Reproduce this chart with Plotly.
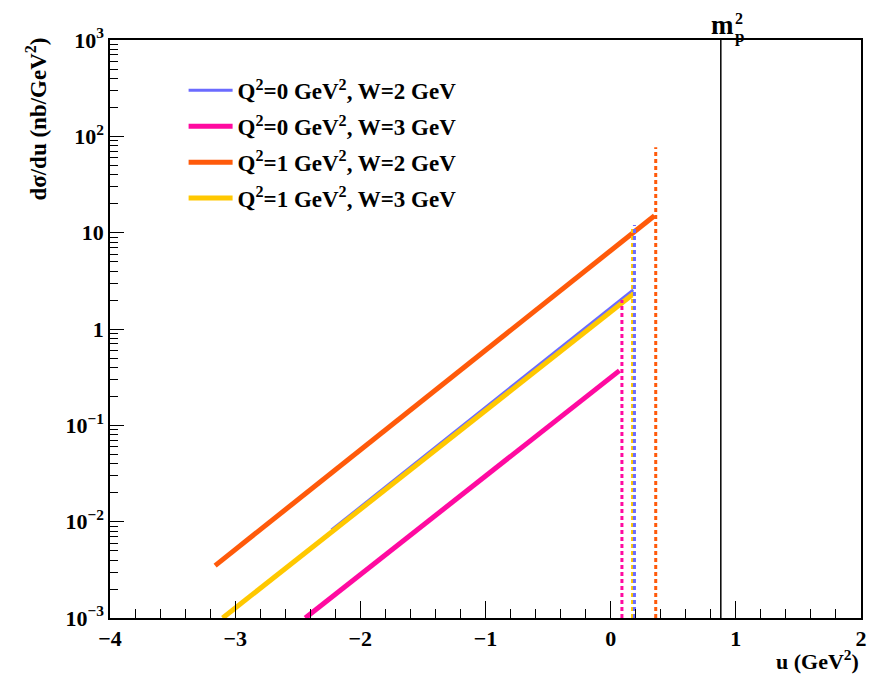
import plotly.graph_objects as go

# Series (straight lines in log-y): endpoints
names = ["Q<sup>2</sup>=0 GeV<sup>2</sup>, W=2 GeV",
         "Q<sup>2</sup>=0 GeV<sup>2</sup>, W=3 GeV",
         "Q<sup>2</sup>=1 GeV<sup>2</sup>, W=2 GeV",
         "Q<sup>2</sup>=1 GeV<sup>2</sup>, W=3 GeV"]
colors = ["#6b6bff", "#ff0aa0", "#ff5a0a", "#ffc800"]
widths = [3, 5, 5, 5]
u_start = [-2.23, -2.44, -3.16, -3.10]
u_end = [0.18, 0.07, 0.35, 0.17]
y_start = [0.0082, 0.001, 0.0035, 0.001]
y_end = [2.55, 0.37, 15.0, 2.25]

# kinematic limits (dotted verticals)
u_lim = [0.19, 0.09, 0.36, 0.175]
y_lim_top = [12.0, 2.0, 77.0, 11.5]

mp2 = 0.88
y_min, y_max = 1e-3, 1e3

ytick_vals = [1e-3, 1e-2, 1e-1, 1, 10, 100, 1000]
ytick_text = ["10<sup>\u22123</sup>", "10<sup>\u22122</sup>", "10<sup>\u22121</sup>",
              "1", "10", "10<sup>2</sup>", "10<sup>3</sup>"]
xtick_vals = [-4, -3, -2, -1, 0, 1, 2]
xtick_text = ["\u22124", "\u22123", "\u22122", "\u22121", "0", "1", "2"]

font_family = "Liberation Serif"

fig = go.Figure()
for i in range(4):
    fig.add_trace(go.Scatter(
        x=[u_start[i], u_end[i]], y=[y_start[i], y_end[i]],
        mode="lines", name=names[i], legendgroup=str(i),
        line=dict(color=colors[i], width=widths[i]),
    ))
for i in [1, 3, 0, 2]:
    fig.add_trace(go.Scatter(
        x=[u_lim[i], u_lim[i]], y=[y_min, y_lim_top[i]],
        mode="lines", showlegend=False,
        line=dict(color=colors[i], width=3, dash="4px,3px"),
    ))
fig.add_trace(go.Scatter(
    x=[mp2, mp2], y=[y_min, y_max], mode="lines", showlegend=False,
    line=dict(color="black", width=1.5),
))

minor_y = [k * 10.0 ** n for n in range(-3, 3) for k in range(2, 10)]

fig.update_layout(
    width=871, height=668,
    margin=dict(l=102, r=12, t=32, b=58),
    plot_bgcolor="white", paper_bgcolor="white",
    font=dict(family=font_family, size=20, color="black"),
    showlegend=True,
    legend=dict(x=0.098, y=0.95, xanchor="left", yanchor="top",
                bgcolor="rgba(0,0,0,0)", tracegroupgap=3, itemwidth=44,
                font=dict(family=font_family, size=23, color="black", weight="bold")),
    xaxis=dict(range=[-4, 2], showgrid=False, zeroline=False,
               showline=True, linecolor="black", linewidth=1.5, mirror=True,
               tickmode="array", tickvals=xtick_vals, ticktext=xtick_text,
               ticks="inside", ticklen=17, tickwidth=1.2, tickcolor="black",
               minor=dict(dtick=0.2, ticks="inside", ticklen=9, tickwidth=1.2, tickcolor="black"),
               tickfont=dict(family=font_family, size=22, weight="bold")),
    yaxis=dict(type="log", range=[-3, 3], showgrid=False, zeroline=False,
               showline=True, linecolor="black", linewidth=1.5, mirror=True,
               tickmode="array", tickvals=ytick_vals, ticktext=ytick_text,
               ticks="inside", ticklen=14, tickwidth=1.2, tickcolor="black",
               minor=dict(tickmode="array", tickvals=minor_y, ticks="inside",
                          ticklen=8, tickwidth=1.2, tickcolor="black"),
               tickfont=dict(family=font_family, size=22, weight="bold")),
)

fig.add_annotation(text="d\u03c3/du (nb/GeV<sup>2</sup>)", xref="paper", yref="paper",
                   x=-0.098, y=0.863, textangle=-90, showarrow=False,
                   xanchor="center", yanchor="middle",
                   font=dict(family=font_family, size=23, weight="bold"))
fig.add_annotation(text="u (GeV<sup>2</sup>)", xref="paper", yref="paper",
                   x=1.0, y=-0.073, showarrow=False, xanchor="right", yanchor="middle",
                   font=dict(family=font_family, size=22, weight="bold"))
fig.add_annotation(text="m", xref="x", yref="paper",
                   x=mp2, y=1.0, showarrow=False, xanchor="center", yanchor="bottom",
                   xshift=2, yshift=-1, borderpad=0,
                   font=dict(family=font_family, size=27, weight="bold"))
fig.add_annotation(text="p", xref="x", yref="paper",
                   x=mp2, y=1.0, showarrow=False, xanchor="left", yanchor="bottom",
                   xshift=13, yshift=-7, borderpad=0,
                   font=dict(family=font_family, size=17, weight="bold"))
fig.add_annotation(text="2", xref="x", yref="paper",
                   x=mp2, y=1.0, showarrow=False, xanchor="left", yanchor="bottom",
                   xshift=13, yshift=12, borderpad=0,
                   font=dict(family=font_family, size=16, weight="bold"))

fig.write_html("out.html")
